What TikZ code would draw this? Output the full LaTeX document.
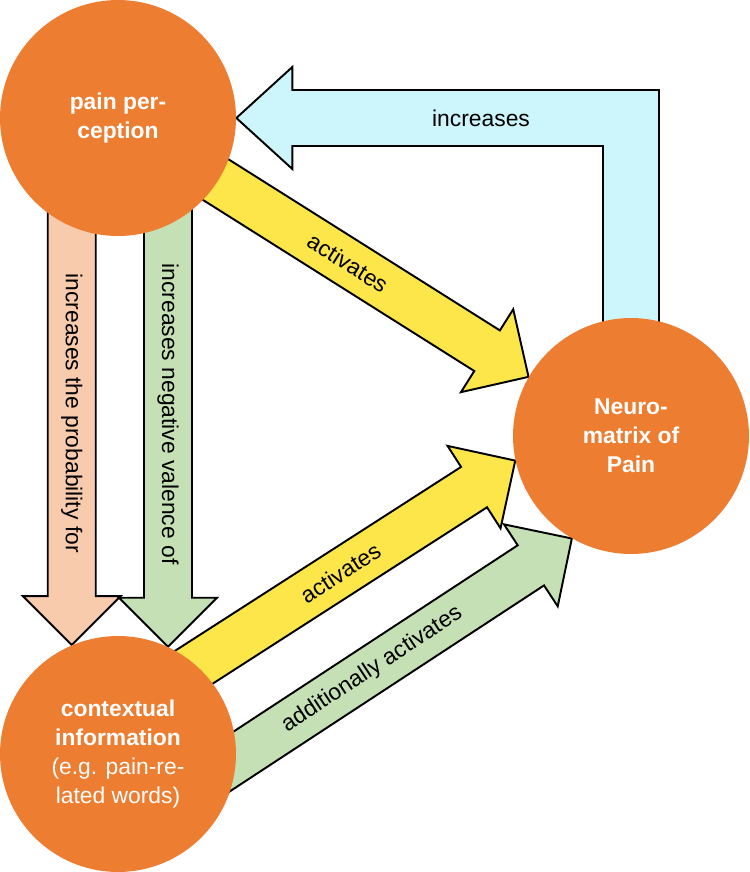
\documentclass[tikz,border=0pt]{standalone}
\usepackage{fontspec}
\setmainfont{Liberation Sans}
\usetikzlibrary{calc,backgrounds}

\definecolor{painorange}{HTML}{ED7D31}
\definecolor{peach}{HTML}{F8CBAD}
\definecolor{leafgreen}{HTML}{C5E0B4}
\definecolor{sunyellow}{HTML}{FCE64A}
\definecolor{icecyan}{HTML}{CCF6FC}

% outlined block arrow: fill, from, to, label name, label
\newcommand{\fatarrow}[5]{%
  \coordinate (hb) at ($(#3)!0.98cm!(#2)$);
  \draw[fat, fill=#1] ($(#2)!0.48cm!90:(#3)$) -- ($(hb)!0.48cm!90:(#3)$) -- ($(hb)!0.98cm!90:(#3)$) -- (#3)
    -- ($(hb)!0.98cm!-90:(#3)$) -- ($(hb)!0.48cm!-90:(#3)$) -- ($(#2)!0.48cm!-90:(#3)$) -- cycle;
  \path (#2) -- (#3) node[lbl, sloped, pos=0.56] (#4) {#5};
}

\begin{document}
\begin{tikzpicture}[x=0.02cm, y=-0.02cm,
  circ/.style={circle, fill=painorange, text=white, minimum size=4.72cm, inner sep=0pt, align=center,
    font=\fontsize{13}{16.6}\selectfont},
  fat/.style={draw=black, line width=1.1pt},
  lbl/.style={inner sep=0pt, font=\fontsize{13}{16}\selectfont}]
\useasboundingbox (0,0) rectangle (750,872);
\node[circ] (pain) at (118,118) {\textbf{pain per-}\\\textbf{ception}};
\node[circ] (nm) at (631,436) {\textbf{Neuro-}\\\textbf{matrix of}\\\textbf{Pain}};
\node[circ] (ctx) at (118,754) {\textbf{contextual}\\\textbf{information}\\(e.g. pain-re-\\lated words)};
\begin{scope}[on background layer]
% feedback from the neuromatrix
\coordinate (bend) at (nm.center |- pain.east);
\draw[fat, fill=icecyan] ($(nm.center)+(-28,0)$) -- ($(bend)+(-28,28)$) -- ($(pain.east)+(56,28)$) -- ($(pain.east)+(56,51)$)
  -- (pain.east) -- ($(pain.east)+(56,-51)$) -- ($(pain.east)+(56,-28)$) -- ($(bend)+(28,-28)$) -- ($(nm.center)+(28,0)$) -- cycle;
\path (pain.east) -- (bend) node[lbl, pos=0.62] (incr) {increases};
% pain perception -> context
\coordinate (prob-s) at (pain.center -| ctx.113);
\coordinate (val-s) at (pain.center -| ctx.65);
\fatarrow{peach}{prob-s}{ctx.113}{prob}{increases the probability for}
\fatarrow{leafgreen}{val-s}{ctx.65}{val}{increases negative valence of}
% into the neuromatrix
\fatarrow{sunyellow}{pain.center}{nm.150}{act1}{activates}
\coordinate (act-s) at ($(ctx.center)+(0,-38)$);
\coordinate (add-s) at ($(ctx.center)+(0,82)$);
\fatarrow{sunyellow}{act-s}{nm.192}{act2}{activates}
\fatarrow{leafgreen}{add-s}{nm.240}{add}{additionally activates}
\end{scope}
\end{tikzpicture}
\end{document}
